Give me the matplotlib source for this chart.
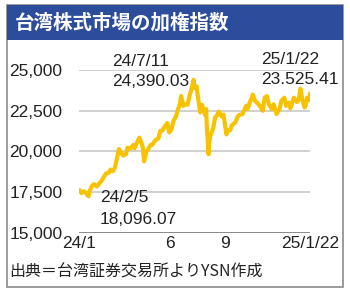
import numpy as np
import pandas as pd
import matplotlib
matplotlib.use('Agg')
import matplotlib.pyplot as plt
import matplotlib.dates as mdates
from matplotlib.patches import Rectangle

# weekly-ish closes of the TAIEX
dates = ['2024-01-02', '2024-01-05', '2024-01-09', '2024-01-12', '2024-01-17',
         '2024-01-19', '2024-01-23', '2024-01-26', '2024-01-31', '2024-02-05',
         '2024-02-07', '2024-02-15', '2024-02-20', '2024-02-23', '2024-02-27',
         '2024-03-01', '2024-03-05', '2024-03-08', '2024-03-12', '2024-03-15',
         '2024-03-20', '2024-03-22', '2024-03-27', '2024-04-01', '2024-04-03',
         '2024-04-08', '2024-04-11', '2024-04-15', '2024-04-17', '2024-04-19',
         '2024-04-23', '2024-04-26', '2024-04-30', '2024-05-03', '2024-05-08',
         '2024-05-13', '2024-05-16', '2024-05-20', '2024-05-23', '2024-05-28',
         '2024-05-31', '2024-06-04', '2024-06-07', '2024-06-12', '2024-06-14',
         '2024-06-18', '2024-06-20', '2024-06-24', '2024-06-27', '2024-07-01',
         '2024-07-04', '2024-07-08', '2024-07-11', '2024-07-12', '2024-07-16',
         '2024-07-18', '2024-07-22', '2024-07-25', '2024-07-30', '2024-08-01',
         '2024-08-02', '2024-08-05', '2024-08-06', '2024-08-08', '2024-08-13',
         '2024-08-16', '2024-08-19', '2024-08-22', '2024-08-27', '2024-08-30',
         '2024-09-04', '2024-09-06', '2024-09-10', '2024-09-13', '2024-09-19',
         '2024-09-23', '2024-09-26', '2024-10-01', '2024-10-07', '2024-10-09',
         '2024-10-14', '2024-10-17', '2024-10-18', '2024-10-22', '2024-10-25',
         '2024-10-30', '2024-11-04', '2024-11-07', '2024-11-11', '2024-11-14',
         '2024-11-19', '2024-11-22', '2024-11-27', '2024-12-02', '2024-12-05',
         '2024-12-10', '2024-12-13', '2024-12-18', '2024-12-20', '2024-12-26',
         '2024-12-31', '2025-01-03', '2025-01-06', '2025-01-09', '2025-01-13',
         '2025-01-15', '2025-01-17', '2025-01-20', '2025-01-22']
values = [17600, 17450, 17560, 17480, 17250,
          17600, 17900, 18000, 17850, 18096,
          18150, 18640, 18700, 18890, 18800,
          19000, 19650, 20150, 19900, 19750,
          19850, 20230, 20180, 20400, 20200,
          20600, 20850, 20500, 20200, 19400,
          20000, 20150, 20400, 20420, 20700,
          20800, 21250, 21300, 21500, 21750,
          21170, 21350, 21850, 22200, 22500,
          22900, 23400, 22800, 22900, 22880,
          23400, 23900, 24390, 23900, 24000,
          23400, 22400, 22870, 22250, 22600,
          21630, 19830, 20500, 20950, 21450,
          22100, 22200, 22450, 22150, 22270,
          21050, 21300, 21300, 21600, 21800,
          22150, 22250, 22300, 22800, 22600,
          23100, 23300, 23490, 23100, 23000,
          22800, 22500, 23300, 23400, 22900,
          22600, 22900, 22300, 22600, 23100,
          23300, 22800, 23000, 22650, 23300,
          23035, 23150, 23850, 23200, 22700,
          22850, 23300, 23150, 23525]

yticks = [15000, 17500, 20000, 22500, 25000]
xtick_dates = ['2024-01-01', '2024-06-01', '2024-09-01', '2025-01-22']
xtick_labels = ['24/1', '6', '9', '25/1/22']

title = '台湾株式市場の加権指数'
source = '出典＝台湾証券交易所よりYSN作成'
notes = [('24/7/11', '24,390.03'), ('25/1/22', '23.525.41'), ('24/2/5', '18,096.07')]

W, H = 350, 292
fig = plt.figure(figsize=(W / 100, H / 100), dpi=100)
fig.patch.set_facecolor('white')

def fx(px):
    return px / W

def fy(py):
    return 1 - py / H

# frame and title bar
fig.patches.append(Rectangle((fx(7), fy(287)), fx(336), (287 - 5) / H,
                             transform=fig.transFigure, fill=False,
                             edgecolor='#8a8a8a', linewidth=1.2))
fig.patches.append(Rectangle((fx(7), fy(40)), fx(336), 35 / H,
                             transform=fig.transFigure, facecolor='#2c4c9c',
                             edgecolor='none'))
fig.text(fx(15), fy(22.5), title, color='white', fontsize=14,
         fontweight='bold', family='Noto Sans CJK JP', va='center', ha='left')

ax = fig.add_axes([fx(79), fy(233), fx(231), (233 - 70) / H])
d = pd.to_datetime(dates)
ax.plot(d, values, color='#f7c300', linewidth=3, solid_joinstyle='round')

ax.set_ylim(15000, 25000)
ax.set_xlim(pd.Timestamp('2024-01-02'), pd.Timestamp('2025-01-22'))
ax.set_yticks(yticks)
ax.set_yticklabels(['{:,}'.format(v) for v in yticks])
ax.set_xticks(pd.to_datetime(xtick_dates))
ax.set_xticklabels(xtick_labels)
for v in yticks[1:]:
    ax.axhline(v, color='#c4c4c4', linewidth=1.1, zorder=0)
ax.axhline(15000, color='#6a6a6a', linewidth=1.1, zorder=0)
for s in ax.spines.values():
    s.set_visible(False)
ax.tick_params(length=0, labelsize=12.5)
ax.tick_params(axis='x', pad=2)
ax.tick_params(axis='y', pad=12)
for lab in ax.get_xticklabels() + ax.get_yticklabels():
    lab.set_family('Liberation Sans')
    lab.set_color('#222222')
ax.set_facecolor('none')

# annotations
pos = [(112, 62, 82), (261, 60, 80), (100, 198, 220)]
for (a, b), (x, y1, y2) in zip(notes, pos):
    fig.text(fx(x), fy(y1), a, fontsize=12.5, family='Liberation Sans',
             color='#222222', va='center', ha='left')
    fig.text(fx(x), fy(y2), b, fontsize=12.5, family='Liberation Sans',
             color='#222222', va='center', ha='left')

fig.text(fx(9), fy(272), source, fontsize=11.5, family='Noto Sans CJK JP',
         color='#222222', va='center', ha='left')

fig.savefig('out.png', dpi=100)
